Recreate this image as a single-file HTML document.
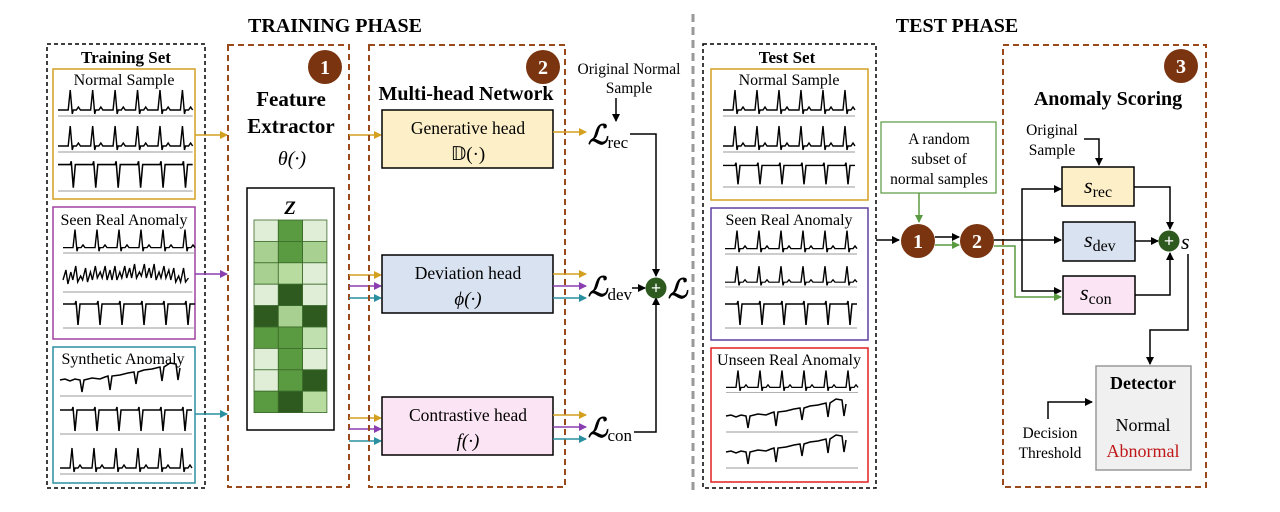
<!DOCTYPE html>
<html><head><meta charset="utf-8"><style>
html,body{margin:0;padding:0;background:#fff}
svg{display:block}
text{font-family:"Liberation Serif",serif}
</style></head><body>
<svg width="1280" height="512" viewBox="0 0 1280 512" xmlns="http://www.w3.org/2000/svg">
<defs>
<marker id="ak" markerWidth="8" markerHeight="8" refX="7" refY="4" orient="auto" markerUnits="userSpaceOnUse"><path d="M0,0 L8,4 L0,8 z" fill="#000"/></marker>
<marker id="ag" markerWidth="8" markerHeight="8" refX="7" refY="4" orient="auto" markerUnits="userSpaceOnUse"><path d="M0,0 L8,4 L0,8 z" fill="#d4a020"/></marker>
<marker id="ap" markerWidth="8" markerHeight="8" refX="7" refY="4" orient="auto" markerUnits="userSpaceOnUse"><path d="M0,0 L8,4 L0,8 z" fill="#8a3fb0"/></marker>
<marker id="at" markerWidth="8" markerHeight="8" refX="7" refY="4" orient="auto" markerUnits="userSpaceOnUse"><path d="M0,0 L8,4 L0,8 z" fill="#2a90a0"/></marker>
<marker id="agr" markerWidth="8" markerHeight="8" refX="7" refY="4" orient="auto" markerUnits="userSpaceOnUse"><path d="M0,0 L8,4 L0,8 z" fill="#5a9a40"/></marker>
<g id="up"><path d="M0,24 h10 l2,-20 l2,24 l1,-4 h3 l2,-3 l2,3 h10 l2,-20 l2,24 l1,-4 h3 l2,-3 l2,3 h10 l2,-20 l2,24 l1,-4 h3 l2,-3 l2,3 h10 l2,-20 l2,24 l1,-4 h3 l2,-3 l2,3 h10 l2,-20 l2,24 l1,-4 h3 l2,-3 l2,3 h10 l2,-20 l2,24 l1,-4 h3 l2,-3 l2,3" fill="none" stroke="#000" stroke-width="1.4"/><line x1="0" y1="30" x2="132" y2="30" stroke="#999" stroke-width="1"/></g>
<g id="dn"><path d="M0,6 h12 l1,-3 l2,24 l2,-21 h5 h12 l1,-3 l2,24 l2,-21 h5 h12 l1,-3 l2,24 l2,-21 h5 h12 l1,-3 l2,24 l2,-21 h5 h12 l1,-3 l2,24 l2,-21 h5 h12 l1,-3 l2,24 l2,-21 h5" fill="none" stroke="#000" stroke-width="1.5"/><line x1="0" y1="30" x2="132" y2="30" stroke="#999" stroke-width="1"/></g>
<g id="nz"><path d="M0,18 l3,-10 l2,14 l3,-12 l2,8 l3,-14 l2,16 l3,-6 l2,4 l3,-12 l2,14 l3,-10 l2,8 l3,-14 l2,12 l3,-6 l2,6 l3,-12 l2,14 l3,-10 l2,10 l3,-14 l2,14 l3,-8 l2,6 l3,-12 l2,12 l3,-10 l2,10 l3,-14 l2,14 l3,-6 l2,4 l3,-12 l2,14 l3,-10 l2,10 l3,-14 l2,16 l3,-8 l2,6 l3,-12 l2,12 l3,-8 l2,10 l3,-12 l2,14 l3,-6 l2,6 l3,-14 l2,14 l3,-4" fill="none" stroke="#000" stroke-width="1.4"/><line x1="0" y1="30" x2="132" y2="30" stroke="#999" stroke-width="1"/></g>
<g id="dr"><path d="M0,14 l5,-1 l5,2 l5,-2 l5,1 l2,12 l2,-12 l8,-2 l8,1 l5,-2 l3,-1 l2,14 l2,-14 l8,-1 l8,-2 l6,-1 l2,12 l2,-12 l6,-2 l8,-1 l8,-2 l2,14 l2,-14 l6,-4 l6,1 l2,16 l2,-12" fill="none" stroke="#000" stroke-width="1.5"/><line x1="0" y1="30" x2="132" y2="30" stroke="#999" stroke-width="1"/></g>
</defs>

<text x="335" y="32" font-size="20" font-weight="bold" text-anchor="middle">TRAINING PHASE</text>
<text x="957" y="32" font-size="20" font-weight="bold" text-anchor="middle">TEST PHASE</text>
<line x1="693" y1="14" x2="693" y2="492" stroke="#999" stroke-width="3" stroke-dasharray="8,5"/>

<rect x="47" y="44" width="158" height="444" fill="none" stroke="#000" stroke-width="1.5" stroke-dasharray="4,3"/>
<text x="126" y="63" font-size="17" font-weight="bold" text-anchor="middle">Training Set</text>
<rect x="53" y="69" width="142" height="130" fill="none" stroke="#d4a020" stroke-width="1.5"/>
<text x="124" y="85" font-size="16" text-anchor="middle">Normal Sample</text>
<use href="#up" transform="translate(58,86) scale(1.02,1)"/>
<use href="#up" transform="translate(58,122) scale(1.02,1)"/>
<use href="#dn" transform="translate(58,158) scale(1.02,1.1)"/>
<rect x="53" y="207" width="142" height="132" fill="none" stroke="#a040a0" stroke-width="1.5"/>
<text x="124" y="225" font-size="16" text-anchor="middle">Seen Real Anomaly</text>
<use href="#up" transform="translate(63,226) scale(1,0.9)"/>
<use href="#nz" transform="translate(63,262) scale(0.98,1)"/>
<use href="#dn" transform="translate(63,298)"/>
<rect x="53" y="347" width="142" height="136" fill="none" stroke="#2a90a0" stroke-width="1.5"/>
<text x="123" y="364" font-size="16" text-anchor="middle">Synthetic Anomaly</text>
<use href="#dr" transform="translate(60,366)"/>
<use href="#dn" transform="translate(60,404)"/>
<use href="#up" transform="translate(60,444)"/>

<line x1="195" y1="135" x2="227" y2="135" stroke="#d4a020" stroke-width="1.5" marker-end="url(#ag)"/>
<line x1="195" y1="274" x2="227" y2="274" stroke="#8a3fb0" stroke-width="1.5" marker-end="url(#ap)"/>
<line x1="195" y1="414" x2="227" y2="414" stroke="#2a90a0" stroke-width="1.5" marker-end="url(#at)"/>

<rect x="228" y="45" width="121" height="442" fill="none" stroke="#9a4a1a" stroke-width="2" stroke-dasharray="6,4"/>
<circle cx="325" cy="67" r="17" fill="#7a3510"/>
<text x="325" y="74" font-size="20" font-weight="bold" fill="#fff" text-anchor="middle">1</text>
<text x="291" y="106" font-size="21" font-weight="bold" text-anchor="middle">Feature</text>
<text x="291" y="133" font-size="21" font-weight="bold" text-anchor="middle">Extractor</text>
<text x="292" y="165" font-size="20" font-style="italic" text-anchor="middle">θ(·)</text>
<rect x="247" y="188" width="87" height="242" fill="#fff" stroke="#000" stroke-width="1.5"/>
<text x="290" y="214" font-size="19" font-weight="bold" font-style="italic" text-anchor="middle">Z</text>
<g stroke="#3a6a2a" stroke-width="0.8">
<rect x="254" y="220" width="24.3" height="21.4" fill="#e0eed8"/><rect x="278.3" y="220" width="24.3" height="21.4" fill="#5a9a40"/><rect x="302.6" y="220" width="24.3" height="21.4" fill="#e0eed8"/>
<rect x="254" y="241.4" width="24.3" height="21.4" fill="#a8d090"/><rect x="278.3" y="241.4" width="24.3" height="21.4" fill="#5a9a40"/><rect x="302.6" y="241.4" width="24.3" height="21.4" fill="#a8d090"/>
<rect x="254" y="262.8" width="24.3" height="21.4" fill="#a8d090"/><rect x="278.3" y="262.8" width="24.3" height="21.4" fill="#b8dca0"/><rect x="302.6" y="262.8" width="24.3" height="21.4" fill="#e0eed8"/>
<rect x="254" y="284.2" width="24.3" height="21.4" fill="#e0eed8"/><rect x="278.3" y="284.2" width="24.3" height="21.4" fill="#2e5a20"/><rect x="302.6" y="284.2" width="24.3" height="21.4" fill="#e0eed8"/>
<rect x="254" y="305.6" width="24.3" height="21.4" fill="#2e5a20"/><rect x="278.3" y="305.6" width="24.3" height="21.4" fill="#a8d090"/><rect x="302.6" y="305.6" width="24.3" height="21.4" fill="#2e5a20"/>
<rect x="254" y="327" width="24.3" height="21.4" fill="#5a9a40"/><rect x="278.3" y="327" width="24.3" height="21.4" fill="#5a9a40"/><rect x="302.6" y="327" width="24.3" height="21.4" fill="#c0e0b0"/>
<rect x="254" y="348.4" width="24.3" height="21.4" fill="#e0eed8"/><rect x="278.3" y="348.4" width="24.3" height="21.4" fill="#5a9a40"/><rect x="302.6" y="348.4" width="24.3" height="21.4" fill="#e0eed8"/>
<rect x="254" y="369.8" width="24.3" height="21.4" fill="#e0eed8"/><rect x="278.3" y="369.8" width="24.3" height="21.4" fill="#5a9a40"/><rect x="302.6" y="369.8" width="24.3" height="21.4" fill="#2e5a20"/>
<rect x="254" y="391.2" width="24.3" height="21.4" fill="#5a9a40"/><rect x="278.3" y="391.2" width="24.3" height="21.4" fill="#2e5a20"/><rect x="302.6" y="391.2" width="24.3" height="21.4" fill="#b8dca0"/>
</g>

<line x1="349" y1="135" x2="381" y2="135" stroke="#d4a020" stroke-width="1.5" marker-end="url(#ag)"/>
<line x1="349" y1="275" x2="381" y2="275" stroke="#d4a020" stroke-width="1.5" marker-end="url(#ag)"/>
<line x1="349" y1="286" x2="381" y2="286" stroke="#8a3fb0" stroke-width="1.5" marker-end="url(#ap)"/>
<line x1="349" y1="298" x2="381" y2="298" stroke="#2a90a0" stroke-width="1.5" marker-end="url(#at)"/>
<line x1="349" y1="418" x2="381" y2="418" stroke="#d4a020" stroke-width="1.5" marker-end="url(#ag)"/>
<line x1="349" y1="429" x2="381" y2="429" stroke="#8a3fb0" stroke-width="1.5" marker-end="url(#ap)"/>
<line x1="349" y1="441" x2="381" y2="441" stroke="#2a90a0" stroke-width="1.5" marker-end="url(#at)"/>

<rect x="369" y="45" width="196" height="442" fill="none" stroke="#9a4a1a" stroke-width="2" stroke-dasharray="6,4"/>
<circle cx="543" cy="67" r="17" fill="#7a3510"/>
<text x="543" y="74" font-size="20" font-weight="bold" fill="#fff" text-anchor="middle">2</text>
<text x="466" y="100" font-size="20" font-weight="bold" text-anchor="middle">Multi-head Network</text>
<rect x="382" y="110" width="171" height="58" fill="#fdf0c8" stroke="#000" stroke-width="1.5"/>
<text x="468" y="134" font-size="17.5" text-anchor="middle">Generative head</text>
<text x="468" y="160" font-size="19" text-anchor="middle">𝔻(·)</text>
<rect x="382" y="255" width="171" height="58" fill="#d8e2f0" stroke="#000" stroke-width="1.5"/>
<text x="468" y="279" font-size="17.5" text-anchor="middle">Deviation head</text>
<text x="468" y="305" font-size="19" font-style="italic" text-anchor="middle">ϕ(·)</text>
<rect x="382" y="397" width="171" height="58" fill="#fbe4f4" stroke="#000" stroke-width="1.5"/>
<text x="468" y="421" font-size="17.5" text-anchor="middle">Contrastive head</text>
<text x="468" y="447" font-size="19" font-style="italic" text-anchor="middle">f(·)</text>

<line x1="553" y1="132" x2="586" y2="132" stroke="#d4a020" stroke-width="1.5" marker-end="url(#ag)"/>
<line x1="553" y1="274" x2="586" y2="274" stroke="#d4a020" stroke-width="1.5" marker-end="url(#ag)"/>
<line x1="553" y1="286" x2="586" y2="286" stroke="#8a3fb0" stroke-width="1.5" marker-end="url(#ap)"/>
<line x1="553" y1="298" x2="586" y2="298" stroke="#2a90a0" stroke-width="1.5" marker-end="url(#at)"/>
<line x1="553" y1="415" x2="586" y2="415" stroke="#d4a020" stroke-width="1.5" marker-end="url(#ag)"/>
<line x1="553" y1="427" x2="586" y2="427" stroke="#8a3fb0" stroke-width="1.5" marker-end="url(#ap)"/>
<line x1="553" y1="439" x2="586" y2="439" stroke="#2a90a0" stroke-width="1.5" marker-end="url(#at)"/>

<text x="629" y="74" font-size="15.5" text-anchor="middle">Original Normal</text>
<text x="629" y="93" font-size="15.5" text-anchor="middle">Sample</text>
<line x1="616" y1="98" x2="616" y2="121" stroke="#000" stroke-width="1.5" marker-end="url(#ak)"/>
<text x="588" y="144" font-size="27" font-style="italic" font-weight="bold">ℒ<tspan font-size="17" font-weight="normal" font-style="normal" dy="4">rec</tspan></text>
<text x="588" y="296" font-size="27" font-style="italic" font-weight="bold">ℒ<tspan font-size="17" font-weight="normal" font-style="normal" dy="4">dev</tspan></text>
<text x="588" y="437" font-size="27" font-style="italic" font-weight="bold">ℒ<tspan font-size="17" font-weight="normal" font-style="normal" dy="4">con</tspan></text>
<polyline points="630,134 656,134 656,276" fill="none" stroke="#000" stroke-width="1.5" marker-end="url(#ak)"/>
<polyline points="634,432 656,432 656,298" fill="none" stroke="#000" stroke-width="1.5" marker-end="url(#ak)"/>
<line x1="632" y1="288" x2="645" y2="288" stroke="#000" stroke-width="1.5" marker-end="url(#ak)"/>
<circle cx="656" cy="288" r="10.5" fill="#2e5a20"/>
<text x="656" y="294" font-size="18" font-weight="bold" fill="#fff" text-anchor="middle">+</text>
<text x="668" y="298" font-size="27" font-style="italic" font-weight="bold">ℒ</text>

<rect x="703" y="44" width="173" height="444" fill="none" stroke="#000" stroke-width="1.5" stroke-dasharray="4,3"/>
<text x="787" y="63" font-size="17" font-weight="bold" text-anchor="middle">Test Set</text>
<rect x="711" y="69" width="157" height="131" fill="none" stroke="#d4a020" stroke-width="1.5"/>
<text x="789" y="85" font-size="16" text-anchor="middle">Normal Sample</text>
<use href="#up" transform="translate(723,86)"/>
<use href="#up" transform="translate(723,122)"/>
<use href="#dn" transform="translate(723,160) scale(1,0.9)"/>
<rect x="711" y="208" width="157" height="132" fill="none" stroke="#6040a0" stroke-width="1.5"/>
<text x="789" y="225" font-size="16" text-anchor="middle">Seen Real Anomaly</text>
<use href="#up" transform="translate(725,227) scale(1,0.9)"/>
<use href="#up" transform="translate(725,263) scale(1,0.8)"/>
<use href="#dn" transform="translate(725,298)"/>
<rect x="711" y="348" width="157" height="134" fill="none" stroke="#e02020" stroke-width="1.5"/>
<text x="789" y="365" font-size="16" text-anchor="middle">Unseen Real Anomaly</text>
<use href="#up" transform="translate(726,367) scale(1,0.85)"/>
<use href="#dr" transform="translate(726,402)"/>
<use href="#dr" transform="translate(726,438)"/>

<line x1="876" y1="240" x2="899" y2="240" stroke="#000" stroke-width="1.5" marker-end="url(#ak)"/>
<rect x="881" y="122" width="115" height="71" fill="#fff" stroke="#5a9a40" stroke-width="1.2"/>
<text x="939" y="144" font-size="15.5" text-anchor="middle">A random</text>
<text x="939" y="164" font-size="15.5" text-anchor="middle">subset of</text>
<text x="939" y="184" font-size="15.5" text-anchor="middle">normal samples</text>
<line x1="919" y1="193" x2="919" y2="222" stroke="#5a9a40" stroke-width="1.5" marker-end="url(#agr)"/>
<circle cx="918" cy="241" r="17" fill="#7a3510"/>
<text x="918" y="248" font-size="20" font-weight="bold" fill="#fff" text-anchor="middle">1</text>
<line x1="935" y1="237" x2="959" y2="237" stroke="#000" stroke-width="1.5" marker-end="url(#ak)"/>
<line x1="935" y1="245" x2="959" y2="245" stroke="#5a9a40" stroke-width="1.5" marker-end="url(#agr)"/>
<circle cx="977" cy="241" r="17" fill="#7a3510"/>
<text x="977" y="248" font-size="20" font-weight="bold" fill="#fff" text-anchor="middle">2</text>

<rect x="1003" y="45" width="203" height="442" fill="none" stroke="#9a4a1a" stroke-width="2" stroke-dasharray="6,4"/>
<circle cx="1181" cy="66" r="17" fill="#7a3510"/>
<text x="1181" y="73" font-size="20" font-weight="bold" fill="#fff" text-anchor="middle">3</text>
<text x="1108" y="105" font-size="20" font-weight="bold" text-anchor="middle">Anomaly Scoring</text>
<text x="1052" y="135" font-size="15.5" text-anchor="middle">Original</text>
<text x="1052" y="155" font-size="15.5" text-anchor="middle">Sample</text>
<polyline points="1084,139 1099,139 1099,165" fill="none" stroke="#000" stroke-width="1.5" marker-end="url(#ak)"/>

<line x1="994" y1="240" x2="1061" y2="240" stroke="#000" stroke-width="1.5" marker-end="url(#ak)"/>
<polyline points="1022,240 1022,189 1061,189" fill="none" stroke="#000" stroke-width="1.5" marker-end="url(#ak)"/>
<polyline points="1022,240 1022,291 1061,291" fill="none" stroke="#000" stroke-width="1.5" marker-end="url(#ak)"/>
<polyline points="994,246 1015,246 1015,297 1061,297" fill="none" stroke="#5a9a40" stroke-width="1.5" marker-end="url(#agr)"/>

<rect x="1062" y="167" width="72" height="39" fill="#fdf0c8" stroke="#000" stroke-width="1.5"/>
<text x="1084" y="193" font-size="22" font-style="italic">s<tspan font-size="16" font-style="normal" dy="4">rec</tspan></text>
<rect x="1063" y="222" width="72" height="39" fill="#d8e2f0" stroke="#000" stroke-width="1.5"/>
<text x="1084" y="247" font-size="22" font-style="italic">s<tspan font-size="16" font-style="normal" dy="4">dev</tspan></text>
<rect x="1063" y="276" width="72" height="38" fill="#fbe4f4" stroke="#000" stroke-width="1.5"/>
<text x="1080" y="300" font-size="22" font-style="italic">s<tspan font-size="16" font-style="normal" dy="4">con</tspan></text>

<polyline points="1134,187 1170,187 1170,229" fill="none" stroke="#000" stroke-width="1.5" marker-end="url(#ak)"/>
<polyline points="1135,295 1170,295 1170,253" fill="none" stroke="#000" stroke-width="1.5" marker-end="url(#ak)"/>
<line x1="1135" y1="241" x2="1158" y2="241" stroke="#000" stroke-width="1.5" marker-end="url(#ak)"/>
<circle cx="1169" cy="241" r="10.5" fill="#2e5a20"/>
<text x="1169" y="247" font-size="18" font-weight="bold" fill="#fff" text-anchor="middle">+</text>
<text x="1181" y="249" font-size="22" font-style="italic">s</text>
<polyline points="1188,254 1188,330 1150,330 1150,364" fill="none" stroke="#000" stroke-width="1.5" marker-end="url(#ak)"/>

<rect x="1096" y="366" width="95" height="104" fill="#f0f0f0" stroke="#999" stroke-width="1.5"/>
<text x="1143" y="389" font-size="18" font-weight="bold" text-anchor="middle">Detector</text>
<text x="1143" y="431" font-size="18" text-anchor="middle">Normal</text>
<text x="1143" y="457" font-size="18" fill="#c01818" text-anchor="middle">Abnormal</text>
<polyline points="1048,419 1048,402 1092,402" fill="none" stroke="#000" stroke-width="1.5" marker-end="url(#ak)"/>
<text x="1050" y="438" font-size="15.5" text-anchor="middle">Decision</text>
<text x="1050" y="458" font-size="15.5" text-anchor="middle">Threshold</text>
</svg>
</body></html>
